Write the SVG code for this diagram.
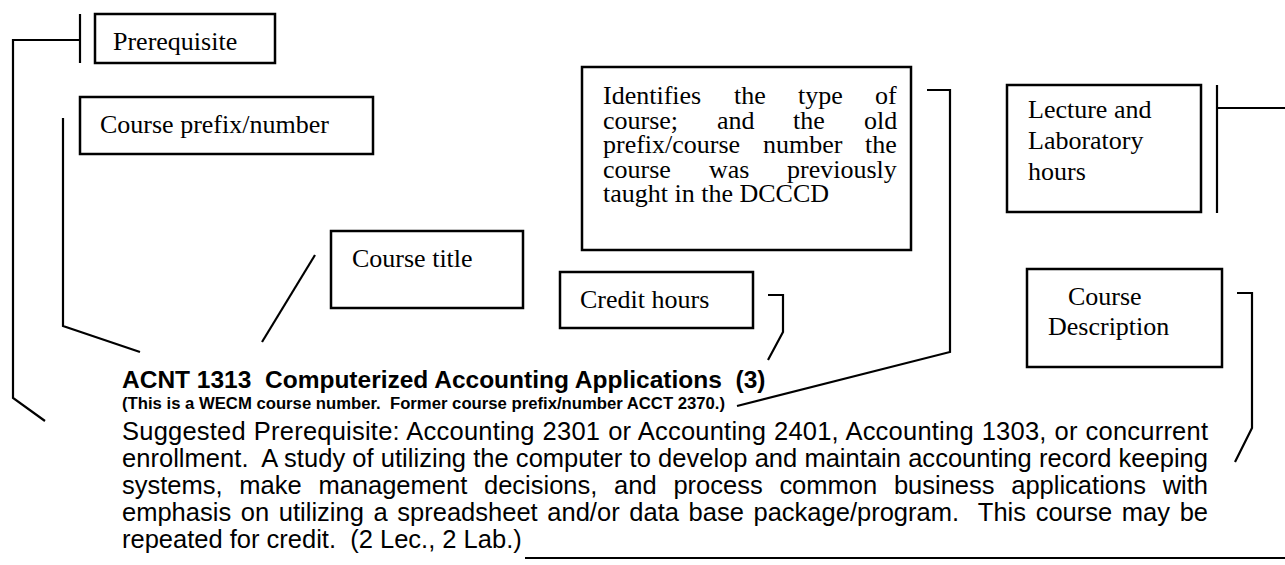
<svg xmlns="http://www.w3.org/2000/svg" width="1285" height="565" viewBox="0 0 1285 565">
<style>
.box{fill:#fff;stroke:#000;stroke-width:2.5}
.ln{fill:none;stroke:#000;stroke-width:2.2;stroke-linejoin:miter}
.t{font-family:"Liberation Serif","Times New Roman",serif;font-size:26px;fill:#000}
.b{font-family:"Liberation Sans",Arial,sans-serif;fill:#000}
.body{font-size:25.5px}
</style>
<rect width="1285" height="565" fill="#fff"/>
<g id="connectors">
 <polyline class="ln" points="80,40 13,40 13,398 45,421"/>
 <line class="ln" x1="80" y1="14" x2="80" y2="63"/>
 <polyline class="ln" points="63,118 63,326 140,352"/>
 <line class="ln" x1="315" y1="255" x2="262" y2="342"/>
 <polyline class="ln" points="768,295 783,295 783,332 768,360"/>
 <polyline class="ln" points="927,90 950,90 950,352 737,406"/>
 <line class="ln" x1="1217" y1="85" x2="1217" y2="213"/>
 <line class="ln" x1="1217" y1="108" x2="1285" y2="108"/>
 <polyline class="ln" points="1237,293 1252,293 1252,428 1235,462"/>
 <line class="ln" x1="525" y1="558" x2="1285" y2="558"/>
</g>
<g id="prerequisite">
 <rect class="box" x="95" y="14" width="180" height="49"/>
 <text class="t" x="113" y="50">Prerequisite</text>
</g>
<g id="course-prefix">
 <rect class="box" x="80" y="97" width="293" height="57"/>
 <text class="t" x="100" y="133">Course prefix/number</text>
</g>
<g id="course-title">
 <rect class="box" x="331" y="231" width="192" height="77"/>
 <text class="t" x="352" y="267">Course title</text>
</g>
<g id="credit-hours">
 <rect class="box" x="560" y="272" width="193" height="56"/>
 <text class="t" x="580" y="308">Credit hours</text>
</g>
<g id="course-type">
 <rect class="box" x="582" y="67" width="329" height="183"/>
 <text class="t" y="104"><tspan x="603">Identifies</tspan><tspan x="734">the</tspan><tspan x="798">type</tspan><tspan x="875">of</tspan></text>
 <text class="t" y="128.5"><tspan x="603">course;</tspan><tspan x="717">and</tspan><tspan x="793">the</tspan><tspan x="864">old</tspan></text>
 <text class="t" y="153"><tspan x="603">prefix/course</tspan><tspan x="763">number</tspan><tspan x="865">the</tspan></text>
 <text class="t" y="177.5"><tspan x="603">course</tspan><tspan x="709">was</tspan><tspan x="787">previously</tspan></text>
 <text class="t" x="603" y="202">taught in the DCCCD</text>
</g>
<g id="lecture-lab">
 <rect class="box" x="1007" y="85" width="194" height="127"/>
 <text class="t" x="1028" y="118">Lecture and</text>
 <text class="t" x="1028" y="149">Laboratory</text>
 <text class="t" x="1028" y="180">hours</text>
</g>
<g id="course-description">
 <rect class="box" x="1027" y="269" width="195" height="98"/>
 <text class="t" x="1068" y="305">Course</text>
 <text class="t" x="1048" y="335">Description</text>
</g>
<g id="course-entry">
 <text class="b" x="122" y="388" font-size="24.5" font-weight="bold" xml:space="preserve">ACNT 1313  Computerized Accounting Applications  (3)</text>
 <text class="b" x="122" y="409" font-size="16.7" font-weight="bold" xml:space="preserve">(This is a WECM course number.  Former course prefix/number ACCT 2370.)</text>
 <text class="b body" x="122" y="440" word-spacing="0.6" textLength="1086" lengthAdjust="spacing">Suggested Prerequisite: Accounting 2301 or Accounting 2401, Accounting 1303, or concurrent</text>
 <text class="b body" x="122" y="467" xml:space="preserve" textLength="1086" lengthAdjust="spacing">enrollment.  A study of utilizing the computer to develop and maintain accounting record keeping</text>
 <text class="b body" x="122" y="494" word-spacing="9.66" textLength="1086" lengthAdjust="spacing">systems, make management decisions, and process common business applications with</text>
 <text class="b body" x="122" y="521" xml:space="preserve" word-spacing="2.53" textLength="1086" lengthAdjust="spacing">emphasis on utilizing a spreadsheet and/or data base package/program.  This course may be</text>
 <text class="b body" x="122" y="548" xml:space="preserve">repeated for credit.  (2 Lec., 2 Lab.)</text>
</g>
</svg>
